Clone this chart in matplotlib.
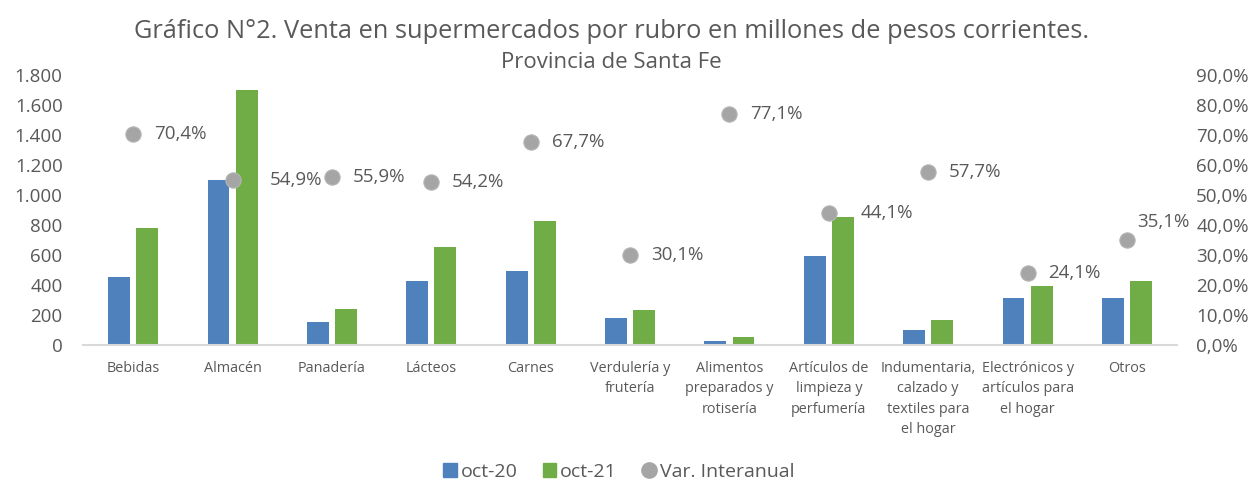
import numpy as np
import matplotlib
matplotlib.use("Agg")
import matplotlib.pyplot as plt
from matplotlib.ticker import FuncFormatter
from matplotlib.lines import Line2D
from matplotlib.patches import Patch

plt.rcParams['font.family'] = ['Open Sans', 'DejaVu Sans']

# datos
rubros = ["Bebidas", "Almacén", "Panadería", "Lácteos", "Carnes",
          "Verdulería y\nfrutería", "Alimentos\npreparados y\nrotisería",
          "Artículos de\nlimpieza y\nperfumería",
          "Indumentaria,\ncalzado y\ntextiles para\nel hogar",
          "Electrónicos y\nartículos para\nel hogar", "Otros"]
oct20 = [456, 1098, 151, 424, 493, 178, 27, 591, 102, 313, 311]
oct21 = [782, 1702, 240, 653, 827, 233, 53, 856, 164, 391, 424]
var_interanual = [70.4, 54.9, 55.9, 54.2, 67.7, 30.1, 77.1, 44.1, 57.7, 24.1, 35.1]

gris_texto = '#595959'
azul = '#4F81BD'
verde = '#70AD47'
gris = '#A5A5A5'

fig = plt.figure(figsize=(12.55, 4.84), dpi=100)
ax = fig.add_axes([0.0665, 0.2872, 0.8711, 0.5578])
ax2 = ax.twinx()

x = np.arange(len(rubros))
w = 0.22
ax.bar(x - 0.1415, oct20, w, color=azul, zorder=2)
ax.bar(x + 0.1415, oct21, w, color=verde, zorder=2)

ax.set_xlim(-0.5, len(rubros) - 0.5)
ax.set_ylim(0, 1800)
ax.set_yticks(np.arange(0, 1801, 200))
ax.yaxis.set_major_formatter(FuncFormatter(lambda v, p: f"{int(v):,}".replace(",", ".")))
ax.set_xticks(x)
ax.set_xticklabels(rubros, fontsize=10.4, color=gris_texto, linespacing=1.48, va='top')

ax2.set_ylim(0, 90)
ax2.set_yticks(np.arange(0, 91, 10))
ax2.yaxis.set_major_formatter(FuncFormatter(lambda v, p: f"{v:.1f}%".replace(".", ",")))

ax2.plot(x, var_interanual, 'o', ms=11, color=gris, mec='#B5B5B5', mew=0.8, zorder=3)

# desplazamiento de etiquetas (pt)
offsets = {1: (27, 0), 7: (23, 0), 10: (7, 13)}
for i, v in enumerate(var_interanual):
    dx, dy = offsets.get(i, (15, 0))
    ax2.annotate(f"{v:.1f}%".replace(".", ","), (x[i], v), xytext=(dx, dy),
                 textcoords='offset points', ha='left', va='center',
                 fontsize=13.5, color=gris_texto)

for a in (ax, ax2):
    for s in a.spines.values():
        s.set_visible(False)
    a.tick_params(length=0, colors=gris_texto, labelsize=13.5)
ax.tick_params(axis='y', pad=15)
ax.tick_params(axis='x', pad=11.5, labelsize=10.4)
ax2.tick_params(axis='y', pad=14)
ax.spines['bottom'].set_visible(True)
ax.spines['bottom'].set_color('#D9D9D9')
ax.spines['bottom'].set_linewidth(1.5)

fig.text(0.4873, 0.935, "Gráfico N°2. Venta en supermercados por rubro en millones de pesos corrientes.",
         ha='center', va='center', fontsize=18.3, color=gris_texto)
fig.text(0.4873, 0.870, "Provincia de Santa Fe", ha='center', va='center',
         fontsize=16, color=gris_texto)

handles = [Patch(color=azul, label='oct-20'), Patch(color=verde, label='oct-21'),
           Line2D([], [], marker='o', ls='', ms=11, color=gris, label='Var. Interanual')]
fig.legend(handles=handles, loc='center', bbox_to_anchor=(0.493, 0.025), ncol=3,
           frameon=False, fontsize=14, labelcolor=gris_texto, handlelength=0.7,
           handleheight=0.7, handletextpad=0.2, columnspacing=1.3)

fig.savefig("out.png", dpi=100)
